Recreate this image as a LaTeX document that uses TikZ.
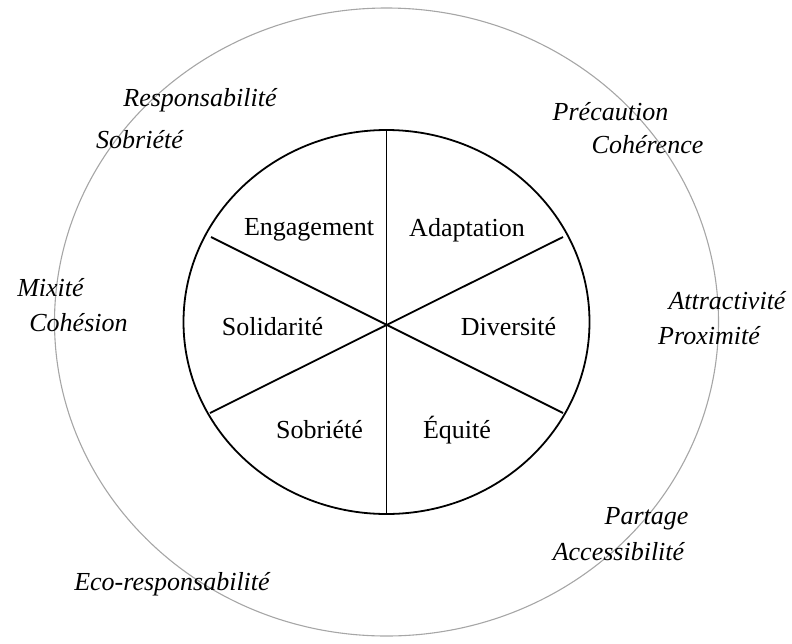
\documentclass[tikz,border=0pt]{standalone}
\usepackage{fontspec}
\setmainfont{Liberation Serif}
\begin{document}
\begin{tikzpicture}[x=1pt, y=-1pt,
    value/.style={inner sep=0pt, font=\fontsize{26}{30}\selectfont},
    goal/.style={inner sep=0pt, font=\fontsize{26}{30}\selectfont\itshape}]
            \useasboundingbox (0,0) rectangle (792,643);
            % two rings
            \coordinate (c) at (386.5,322);
            \draw [gray!70, line width=1.1pt] (c) ellipse (332 and 314);
            \draw [line width=1.8pt] (c) ellipse (203 and 192);
            % spokes
            \coordinate (m) at (386.5,325);
            \coordinate (n) at (386.5,130);
            \coordinate (s) at (386.5,514);
            \coordinate (nw) at (211,237);
            \coordinate (ne) at (563,237);
            \coordinate (sw) at (210,413);
            \coordinate (se) at (563,413);
            \draw [line width=1.8pt] (n) -- (s);
            \draw [line width=1.8pt] (nw) -- (se);
            \draw [line width=1.8pt] (sw) -- (ne);
            % inner values
            \node [value] (eng) at (309,230) {Engagement};
            \node [value] (ada) at (467,230) {Adaptation};
            \node [value] (sol) at (272.5,327) {Solidarité};
            \node [value] (div) at (508.5,327) {Diversité};
            \node [value] (sob) at (319.5,430) {Sobriété};
            \node [value] (equ) at (457,430) {Équité};
            % outer goals
            \node [goal] (resp) at (200,100) {Responsabilité};
            \node [goal] (sobr) at (139.5,140) {Sobriété};
            \node [goal] (prec) at (610.5,112) {Précaution};
            \node [goal] (cohe) at (647.5,145) {Cohérence};
            \node [goal] (mixi) at (50.5,288) {Mixité};
            \node [goal] (cohs) at (78.5,323) {Cohésion};
            \node [goal] (attr) at (727,301) {Attractivité};
            \node [goal] (prox) at (709,336) {Proximité};
            \node [goal] (part) at (646.5,519) {Partage};
            \node [goal] (acce) at (618.5,552) {Accessibilité};
            \node [goal] (ecor) at (172,584) {Eco-responsabilité};
        \end{tikzpicture}
\end{document}
